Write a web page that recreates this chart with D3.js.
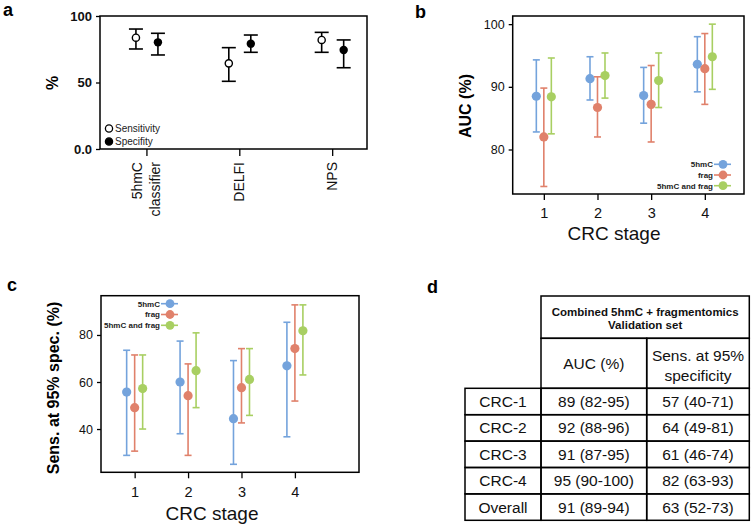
<!DOCTYPE html>
<html>
<head>
<meta charset="utf-8">
<script src="https://cdn.jsdelivr.net/npm/d3@7"></script>
<style>
  body { margin: 0; background: #fff; }
  svg { font-family: "Liberation Sans", Arial, sans-serif; }
</style>
</head>
<body>
<script>
// Panel a: sensitivity / specificity per classifier
const aCats = ["5hmC classifier", "DELFI", "NPS"];
const aSens = [83.7, 64.4, 82.0];
const aSensLo = [75.2, 50.9, 72.7];
const aSensHi = [90.2, 76.2, 87.7];
const aSpec = [80.2, 79.2, 74.4];
const aSpecLo = [70.7, 72.7, 61.1];
const aSpecHi = [87.0, 85.7, 82.0];

// Panels b and c: by CRC stage
const stages = [1, 2, 3, 4];
const seriesNames = ["5hmC", "frag", "5hmC and frag"];
const seriesColors = ["#74a3dc", "#e0816b", "#a8cf62"];

const auc5hmC = [88.5, 91.3, 88.6, 93.6];
const auc5hmCLo = [82.8, 87.9, 84.2, 89.2];
const auc5hmCHi = [94.3, 94.8, 93.1, 98.0];
const aucFrag = [82.0, 86.7, 87.2, 92.9];
const aucFragLo = [74.1, 82.0, 81.2, 87.2];
const aucFragHi = [89.8, 91.6, 93.4, 98.5];
const aucComb = [88.4, 91.8, 91.0, 94.8];
const aucCombLo = [82.5, 88.2, 86.7, 89.6];
const aucCombHi = [94.6, 95.4, 95.4, 100];

const sens5hmC = [55.7, 60.0, 44.4, 66.9];
const sens5hmCLo = [28.8, 38.0, 25.0, 36.7];
const sens5hmCHi = [73.5, 77.4, 69.1, 85.4];
const sensFrag = [49.1, 54.2, 57.6, 74.2];
const sensFragLo = [30.6, 28.8, 42.6, 51.9];
const sensFragHi = [71.5, 67.7, 74.2, 92.8];
const sensComb = [57.2, 64.8, 61.1, 81.8];
const sensCombLo = [40.0, 49.1, 45.8, 63.0];
const sensCombHi = [71.5, 80.9, 74.2, 92.8];

// Panel d: table
const tableRows = ["CRC-1", "CRC-2", "CRC-3", "CRC-4", "Overall"];
const tableAuc = ["89 (82-95)", "92 (88-96)", "91 (87-95)", "95 (90-100)", "91 (89-94)"];
const tableSens = ["57 (40-71)", "64 (49-81)", "61 (46-74)", "82 (63-93)", "63 (52-73)"];

const width = 751;
const height = 524;

const svg = d3.select('body').append('svg')
    .attr('width', width)
    .attr('height', height);

// Panel letters
const letters = [["a", 3, 16], ["b", 415, 18], ["c", 7, 291], ["d", 427, 293]];
letters.forEach(([t, x, y]) => {
  svg.append('text').attr('x', x).attr('y', y)
    .style('font-size', '18px').style('font-weight', 'bold').text(t);
});

// Draws the frame + axes of one panel
function drawFrame(x, y, opts) {
  const g = svg.append('g');
  const [x0, x1] = x.range();
  const [y0, y1] = y.range();
  g.append('rect')
    .attr('x', x0).attr('y', y1)
    .attr('width', x1 - x0).attr('height', y0 - y1)
    .attr('fill', 'none').attr('stroke', '#000').attr('stroke-width', 1.5);

  const ya = g.append('g').attr('transform', `translate(${x0},0)`)
    .call(d3.axisLeft(y).tickValues(opts.yTicks).tickSize(4).tickPadding(4)
      .tickFormat(opts.yFormat || (d => d)));
  ya.select('.domain').remove();
  ya.selectAll('line').attr('stroke-width', 1.3);
  ya.selectAll('text').style('font-size', opts.yFont)
    .style('font-weight', opts.yBold ? 'bold' : 'normal')
    .attr('fill', '#111');

  const xa = g.append('g').attr('transform', `translate(0,${y0})`)
    .call(d3.axisBottom(x).tickValues(opts.xTicks).tickSize(opts.xTickLen).tickFormat(opts.xFormat || (d => d)));
  xa.select('.domain').remove();
  xa.selectAll('line').attr('stroke-width', 1.3);
  xa.selectAll('text').style('font-size', '14.5px').attr('fill', '#111')
    .attr('y', opts.xTickLen + 8).attr('dy', '0.71em');
  return xa;
}

function errorBar(x, y, cx, lo, hi, mid, cap, color, r, fill) {
  const g = svg.append('g').attr('stroke', color).attr('stroke-width', 1.6);
  g.append('line').attr('x1', cx).attr('x2', cx).attr('y1', y(lo)).attr('y2', y(hi));
  g.append('line').attr('x1', cx - cap).attr('x2', cx + cap).attr('y1', y(lo)).attr('y2', y(lo));
  g.append('line').attr('x1', cx - cap).attr('x2', cx + cap).attr('y1', y(hi)).attr('y2', y(hi));
  g.append('circle').attr('cx', cx).attr('cy', y(mid)).attr('r', r)
    .attr('fill', fill).attr('stroke-width', fill === '#fff' ? 1.4 : 0);
}

// ---------- Panel a ----------
const xA = d3.scaleLinear().domain([0.5, 3.375]).range([100, 367]);
const yA = d3.scaleLinear().domain([0, 100]).range([149, 16]);
drawFrame(xA, yA, {
  yTicks: [0, 50, 100], yFormat: d => d === 0 ? '0.0' : d, yFont: '13px', yBold: true,
  xTicks: [1, 2, 3], xTickLen: 7, xFormat: () => ''
});
aCats.forEach((c, i) => {
  const cx = xA(i + 1);
  const lines = c.split(' ');
  lines.forEach((ln, j) => {
    const lx = cx - (lines.length - 1) * 9 + j * 18;
    svg.append('text')
      .attr('transform', `translate(${lx},162) rotate(-90)`)
      .attr('text-anchor', 'end').attr('dy', '0.35em')
      .style('font-size', '14px').attr('fill', '#111').text(ln);
  });
  errorBar(xA, yA, cx - 10.5, aSensLo[i], aSensHi[i], aSens[i], 7, '#000', 3.6, '#fff');
  errorBar(xA, yA, cx + 11.5, aSpecLo[i], aSpecHi[i], aSpec[i], 7, '#000', 4.2, '#000');
});
svg.append('text').attr('transform', 'translate(52,83) rotate(-90)')
  .attr('text-anchor', 'middle').attr('dy', '0.35em')
  .style('font-size', '16px').style('font-weight', 'bold').text('%');
// legend a
[["Sensitivity", '#fff'], ["Specifity", '#000']].forEach(([t, f], i) => {
  const ly = 128.5 + i * 13;
  svg.append('circle').attr('cx', 109).attr('cy', ly).attr('r', 3.6)
    .attr('fill', f).attr('stroke', '#000').attr('stroke-width', 1.3);
  svg.append('text').attr('x', 115).attr('y', ly).attr('dy', '0.35em')
    .style('font-size', '10px').attr('fill', '#222').text(t);
});

// ---------- Panels b and c ----------
function stagePanel(x, y, mids, los, his, offsets, yTicks, legend, label, xlab) {
  drawFrame(x, y, { yTicks, yFont: '12.5px', xTicks: stages, xTickLen: 6 });
  mids.forEach((m, s) => {
    stages.forEach((st, i) => {
      errorBar(x, y, x(st) + offsets[s], los[s][i], his[s][i], m[i], 3.5, seriesColors[s], 4.6, seriesColors[s]);
    });
  });
  seriesNames.forEach((n, s) => {
    const ly = legend.y + s * legend.dy;
    svg.append('line').attr('x1', legend.x).attr('x2', legend.x + 17)
      .attr('y1', ly).attr('y2', ly).attr('stroke', seriesColors[s]).attr('stroke-width', 1.6);
    svg.append('circle').attr('cx', legend.x + 9).attr('cy', ly).attr('r', 4.4).attr('fill', seriesColors[s]);
    svg.append('text').attr('x', legend.x - 1).attr('y', ly).attr('dy', '0.35em')
      .attr('text-anchor', 'end').style('font-size', '8px').style('font-weight', 'bold')
      .attr('fill', '#222').text(n);
  });
  svg.append('text').attr('transform', `translate(${label.x},${label.y}) rotate(-90)`)
    .attr('text-anchor', 'middle').attr('dy', '0.35em')
    .style('font-size', '16px').style('font-weight', 'bold').text(label.t);
  svg.append('text').attr('x', xlab.x).attr('y', xlab.y).attr('text-anchor', 'middle')
    .style('font-size', '19px').attr('fill', '#111').text('CRC stage');
}

const xB = d3.scaleLinear().domain([0.42, 4.73]).range([512.7, 744]);
const yB = d3.scaleLinear().domain([72.9, 101.3]).range([194, 16]);
stagePanel(xB, yB, [auc5hmC, aucFrag, aucComb], [auc5hmCLo, aucFragLo, aucCombLo],
  [auc5hmCHi, aucFragHi, aucCombHi], [-7.5, 0, 7.5], [80, 90, 100],
  { x: 714, y: 164.3, dy: 10.7 }, { x: 465, y: 106, t: 'AUC (%)' }, { x: 614, y: 240 });

const xC = d3.scaleLinear().domain([0.37, 5.2]).range([101, 359]);
const yC = d3.scaleLinear().domain([21.6, 96.7]).range([472.3, 295.7]);
stagePanel(xC, yC, [sens5hmC, sensFrag, sensComb], [sens5hmCLo, sensFragLo, sensCombLo],
  [sens5hmCHi, sensFragHi, sensCombHi], [-8, 0, 8], [40, 60, 80],
  { x: 161, y: 303.7, dy: 10.8 }, { x: 53, y: 388, t: 'Sens. at 95% spec. (%)' }, { x: 212, y: 520 });

// ---------- Panel d: table ----------
const colX = [465, 541, 646.7, 749.3];
const rowY = d3.scaleLinear().domain([0, tableRows.length]).range([388.3, 520.3]);
const tg = svg.append('g').attr('fill', 'none').attr('stroke', '#000').attr('stroke-width', 1.5);
tg.append('rect').attr('x', colX[1]).attr('y', 296).attr('width', colX[3] - colX[1]).attr('height', 42.3);
tg.append('rect').attr('x', colX[1]).attr('y', 338.3).attr('width', colX[2] - colX[1]).attr('height', 50);
tg.append('rect').attr('x', colX[2]).attr('y', 338.3).attr('width', colX[3] - colX[2]).attr('height', 50);
tableRows.forEach((r, i) => {
  for (let c = 0; c < 3; c++) {
    tg.append('rect').attr('x', colX[c]).attr('y', rowY(i))
      .attr('width', colX[c + 1] - colX[c]).attr('height', rowY(i + 1) - rowY(i));
  }
  const cy = (rowY(i) + rowY(i + 1)) / 2;
  [r, tableAuc[i], tableSens[i]].forEach((t, c) => {
    svg.append('text').attr('x', (colX[c] + colX[c + 1]) / 2).attr('y', cy).attr('dy', '0.35em')
      .attr('text-anchor', 'middle').style('font-size', '15.5px').attr('fill', '#111').text(t);
  });
});
const headMid = (colX[1] + colX[3]) / 2;
[["Combined 5hmC + fragmentomics", 311.5], ["Validation set", 324.5]].forEach(([t, y]) => {
  svg.append('text').attr('x', headMid).attr('y', y).attr('dy', '0.35em').attr('text-anchor', 'middle')
    .style('font-size', '11.5px').style('font-weight', 'bold').attr('fill', '#111').text(t);
});
svg.append('text').attr('x', (colX[1] + colX[2]) / 2).attr('y', 364).attr('dy', '0.35em')
  .attr('text-anchor', 'middle').style('font-size', '15.5px').attr('fill', '#111').text('AUC (%)');
[["Sens. at 95%", 355.5], ["specificity", 375.5]].forEach(([t, y]) => {
  svg.append('text').attr('x', (colX[2] + colX[3]) / 2).attr('y', y).attr('dy', '0.35em')
    .attr('text-anchor', 'middle').style('font-size', '15.5px').attr('fill', '#111').text(t);
});
</script>
</body>
</html>
